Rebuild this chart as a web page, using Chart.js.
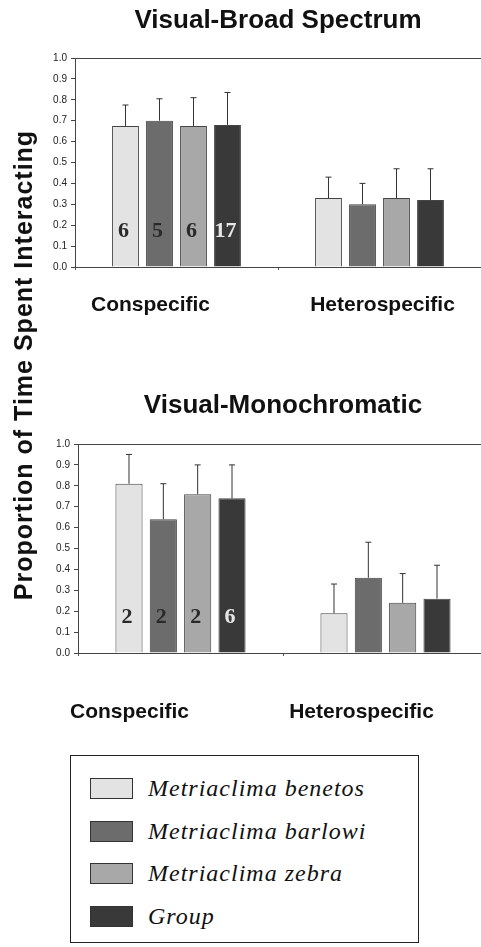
<!DOCTYPE html>
<html>
<head>
<meta charset="utf-8">
<script src="https://cdn.jsdelivr.net/npm/chart.js@4.4.1/dist/chart.umd.min.js"></script>
<style>
  html, body { margin: 0; padding: 0; background: #fff; overflow: hidden; }
  body { width: 481px; height: 947px; position: relative; }
  .panel { position: absolute; left: 0; }
  #yTitle {
    position: absolute; left: -226px; top: 350px; width: 500px; height: 30px;
    line-height: 30px; text-align: center; transform: rotate(-90deg);
    font: bold 25px "Liberation Sans", Arial, sans-serif; letter-spacing: 1px; color: #111;
    white-space: nowrap;
  }
  #legend {
    position: absolute; left: 70px; top: 755px; width: 349px; height: 188px;
    border: 1.5px solid #222; box-sizing: border-box; padding-top: 11px;
  }
  .row { height: 42.7px; display: flex; align-items: center; }
  .sw { width: 43px; height: 21px; margin-left: 19px; margin-right: 15px; border: 1px solid #333; box-sizing: border-box; }
  .lab { font: italic 24px "Liberation Serif", "Times New Roman", serif; letter-spacing: 1px; color: #111; }
</style>
</head>
<body>
<div class="panel" style="top:0; width:481px; height:320px;"><canvas id="broadChart"></canvas></div>
<div class="panel" style="top:380px; width:488px; height:343px;"><canvas id="monoChart"></canvas></div>
<div id="yTitle">Proportion of Time Spent Interacting</div>
<div id="legend"></div>
<script>
// data
const categories = ['Conspecific', 'Heterospecific'];
const species = ['Metriaclima benetos', 'Metriaclima barlowi', 'Metriaclima zebra', 'Group'];

// means per species: [conspecific, heterospecific]
const broadMean = [[0.675, 0.33], [0.70, 0.30], [0.675, 0.33], [0.68, 0.32]];
const broadErrTop = [[0.775, 0.43], [0.805, 0.40], [0.81, 0.47], [0.835, 0.47]];
const broadN = ['6', '5', '6', '17'];

const monoMean = [[0.81, 0.19], [0.64, 0.36], [0.76, 0.24], [0.74, 0.26]];
const monoErrTop = [[0.95, 0.33], [0.81, 0.53], [0.90, 0.38], [0.90, 0.42]];
const monoN = ['2', '2', '2', '6'];

const yTicks = [0, 0.1, 0.2, 0.3, 0.4, 0.5, 0.6, 0.7, 0.8, 0.9, 1.0];

// styling
const fills = ['#e3e3e3', '#6c6c6c', '#a8a8a8', '#393939'];
const nColors = ['#2a2a2a', '#2a2a2a', '#2a2a2a', '#e6e6e6'];

const annot = {
    id: 'annot',
    afterDatasetsDraw(chart, args, opts) {
        const ctx = chart.ctx;
        const y = chart.scales.y;
        const x = chart.scales.x;
        ctx.save();
        chart.data.datasets.forEach((ds, d) => {
            const meta = chart.getDatasetMeta(d);
            meta.data.forEach((bar, i) => {
                const top = y.getPixelForValue(opts.errTop[d][i]);
                ctx.strokeStyle = '#333';
                ctx.lineWidth = 1;
                ctx.beginPath();
                ctx.moveTo(bar.x, bar.y);
                ctx.lineTo(bar.x, top);
                ctx.moveTo(bar.x - 3, top);
                ctx.lineTo(bar.x + 3, top);
                ctx.stroke();
            });
            const first = meta.data[0];
            ctx.font = 'bold 22px "Liberation Serif", "Times New Roman", serif';
            ctx.textAlign = 'center';
            ctx.textBaseline = 'middle';
            ctx.fillStyle = nColors[d];
            ctx.fillText(opts.n[d], first.x - 2, y.getPixelForValue(0.17));
        });
        // category names under the axis
        ctx.font = 'bold 21px "Liberation Sans", Arial, sans-serif';
        ctx.fillStyle = '#111';
        ctx.textAlign = 'center';
        ctx.textBaseline = 'middle';
        categories.forEach((c, i) => {
            ctx.fillText(c, x.getPixelForValue(i) + opts.labelShift[i], x.top + opts.labelGap);
        });
        ctx.restore();
    }
};

function makeChart(id, title, means, errTop, n, o) {
    const datasets = species.map((s, d) => ({
        label: s,
        data: means[d],
        backgroundColor: fills[d],
        borderColor: '#444',
        borderWidth: 1,
        borderSkipped: 'bottom',
        barPercentage: 0.79,
        categoryPercentage: 0.67
    }));
    return new Chart(document.getElementById(id), {
        type: 'bar',
        data: { labels: categories, datasets: datasets },
        options: {
            responsive: true,
            maintainAspectRatio: false,
            animation: false,
            events: [],
            layout: { padding: 0 },
            plugins: {
                legend: { display: false },
                tooltip: { enabled: false },
                title: {
                    display: true,
                    text: title,
                    fullSize: false,
                    color: '#111',
                    font: { family: '"Liberation Sans", Arial, sans-serif', size: 26, weight: 'bold' },
                    padding: { top: o.titleTop, bottom: o.titleBottom }
                },
                annot: { errTop: errTop, n: n, labelShift: o.labelShift, labelGap: o.labelGap }
            },
            scales: {
                x: {
                    grid: { display: true, drawOnChartArea: false, drawTicks: true, tickLength: 3, color: '#555' },
                    border: { display: true, color: '#444', width: 1 },
                    ticks: { display: false },
                    afterFit: s => { s.height = o.xHeight; }
                },
                y: {
                    min: 0,
                    max: 1,
                    afterBuildTicks: s => { s.ticks = yTicks.map(v => ({ value: v })); },
                    grid: {
                        color: c => c.tick && c.tick.value === 1 ? '#444' : 'rgba(0,0,0,0)',
                        tickColor: '#444',
                        tickLength: 4
                    },
                    border: { display: true, color: '#444', width: 1 },
                    ticks: {
                        padding: 4,
                        color: '#222',
                        font: { family: '"Liberation Sans", Arial, sans-serif', size: 10 },
                        callback: v => v.toFixed(1)
                    },
                    afterFit: s => { s.width = o.yWidth; }
                }
            }
        },
        plugins: [annot]
    });
}

makeChart('broadChart', 'Visual-Broad Spectrum', broadMean, broadErrTop, broadN,
    { titleTop: 5, titleBottom: 21.8, xHeight: 53, yWidth: 75, labelShift: [-26, 3], labelGap: 38 });
makeChart('monoChart', 'Visual-Monochromatic', monoMean, monoErrTop, monoN,
    { titleTop: 10, titleBottom: 22.8, xHeight: 70, yWidth: 78, labelShift: [-51, -24], labelGap: 59 });

// legend box
const legend = document.getElementById('legend');
species.forEach((s, d) => {
    const row = document.createElement('div');
    row.className = 'row';
    const sw = document.createElement('div');
    sw.className = 'sw';
    sw.style.background = fills[d];
    const lab = document.createElement('span');
    lab.className = 'lab';
    lab.textContent = s;
    row.appendChild(sw);
    row.appendChild(lab);
    legend.appendChild(row);
});
</script>
</body>
</html>
